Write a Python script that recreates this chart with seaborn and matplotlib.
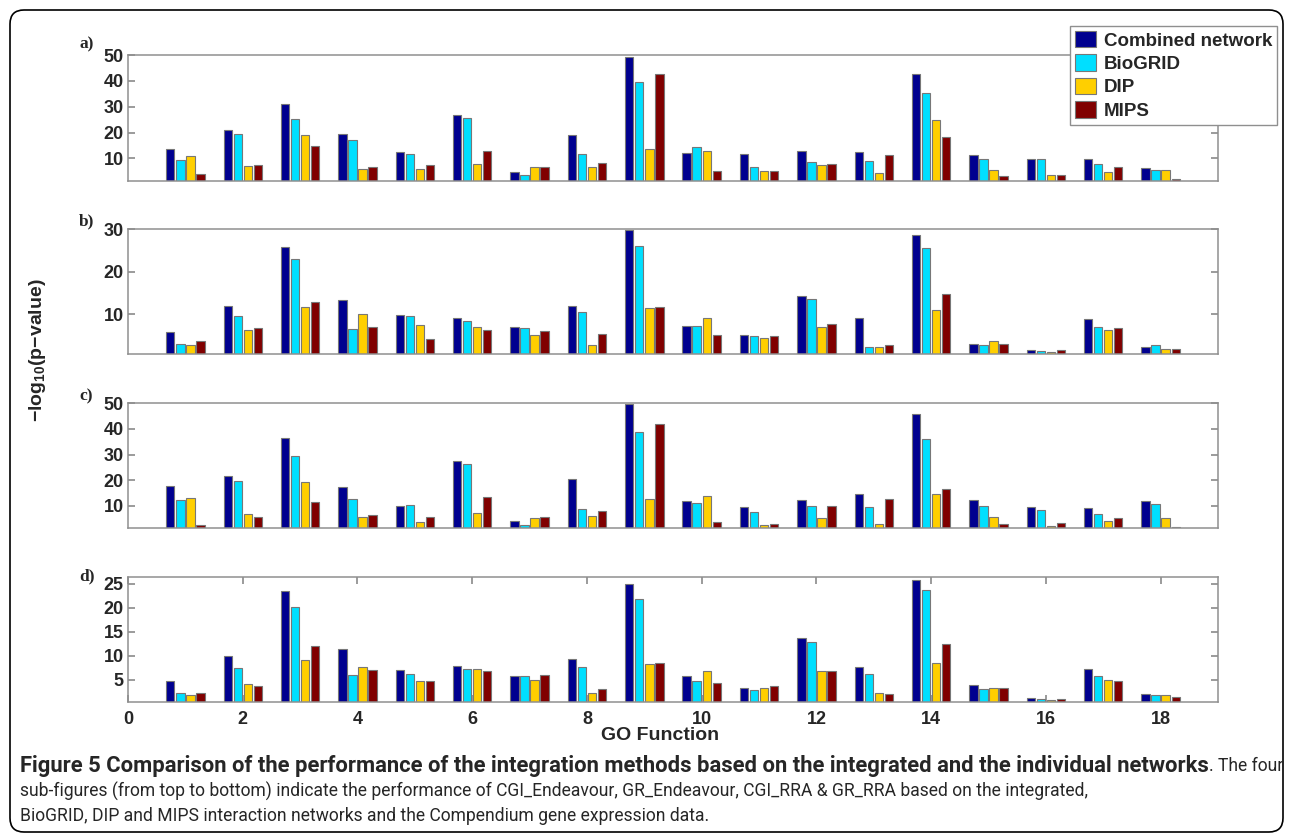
import numpy as np
import pandas as pd
import matplotlib
matplotlib.use("Agg")
import matplotlib.pyplot as plt
import seaborn as sns
from matplotlib import font_manager as fm
from matplotlib import transforms as mtransforms
from matplotlib.patches import FancyBboxPatch

# ---------------- data ----------------
go_function = list(range(1, 19))
networks = ["Combined network", "BioGRID", "DIP", "MIPS"]
panel_labels = ["a)", "b)", "c)", "d)"]
x_tick_labels = [0, 2, 4, 6, 8, 10, 12, 14, 16, 18]

a_combined = [13.5, 21.0, 31.2, 19.4, 12.5, 26.8, 4.8, 19.0, 49.4, 12.2, 11.8, 13.0, 12.5, 42.6, 11.3, 9.7, 9.9, 6.3]
a_biogrid = [9.2, 19.3, 25.1, 17.2, 11.7, 25.6, 3.5, 11.8, 39.7, 14.4, 6.8, 8.6, 8.8, 35.4, 9.6, 9.7, 7.9, 5.5]
a_dip = [10.8, 7.2, 19.0, 6.0, 5.9, 7.9, 6.5, 6.6, 13.6, 12.8, 5.1, 7.3, 4.3, 25.0, 5.6, 3.5, 4.7, 5.4]
a_mips = [3.9, 7.4, 14.9, 6.8, 7.3, 12.8, 6.5, 8.3, 42.5, 5.1, 5.1, 7.7, 11.2, 18.3, 3.0, 3.5, 6.5, 1.9]

b_combined = [5.9, 12.0, 25.9, 13.3, 9.7, 9.2, 6.9, 12.0, 29.8, 7.3, 5.1, 14.3, 9.0, 28.6, 3.1, 1.5, 8.8, 2.2]
b_biogrid = [3.1, 9.5, 23.1, 6.5, 9.5, 8.3, 6.7, 10.5, 26.1, 7.3, 4.8, 13.5, 2.2, 25.6, 2.7, 1.4, 7.1, 2.8]
b_dip = [2.8, 6.3, 11.7, 10.0, 7.5, 6.9, 5.2, 2.8, 11.4, 9.0, 4.5, 7.1, 2.2, 11.0, 3.7, 1.0, 6.3, 1.8]
b_mips = [3.7, 6.7, 12.8, 7.1, 4.1, 6.3, 6.1, 5.4, 11.7, 5.1, 4.8, 7.6, 2.8, 14.8, 2.9, 1.6, 6.7, 1.9]

c_combined = [17.9, 21.8, 36.4, 17.3, 10.1, 27.5, 4.0, 20.6, 49.7, 12.1, 9.5, 12.2, 14.5, 45.7, 12.2, 9.5, 9.4, 12.1]
c_biogrid = [12.2, 19.7, 29.5, 12.9, 10.5, 26.5, 2.7, 9.0, 39.0, 11.2, 7.5, 9.9, 9.5, 36.1, 10.0, 8.4, 7.0, 10.9]
c_dip = [13.2, 6.8, 19.5, 5.6, 3.9, 7.4, 5.2, 6.1, 12.6, 13.9, 2.5, 5.2, 3.1, 14.8, 5.7, 2.1, 4.2, 5.2]
c_mips = [2.7, 5.6, 11.7, 6.4, 5.7, 13.5, 5.7, 7.9, 42.1, 3.6, 3.0, 10.0, 12.9, 16.5, 3.0, 3.2, 5.5, 1.9]

d_combined = [4.7, 10.0, 23.5, 11.3, 7.0, 7.9, 5.7, 9.3, 25.0, 5.8, 3.3, 13.7, 7.6, 25.9, 3.8, 1.1, 7.3, 2.0]
d_biogrid = [2.2, 7.4, 20.2, 5.9, 6.2, 7.3, 5.7, 7.6, 21.9, 4.7, 2.8, 12.8, 6.1, 23.7, 3.0, 1.0, 5.8, 1.7]
d_dip = [1.7, 4.0, 9.0, 7.7, 4.8, 7.2, 4.9, 2.2, 8.3, 6.7, 3.3, 6.7, 2.3, 8.5, 3.3, 0.8, 5.0, 1.7]
d_mips = [2.3, 3.7, 12.1, 7.0, 4.7, 6.7, 5.9, 3.0, 8.4, 4.2, 3.7, 6.9, 2.0, 12.4, 3.2, 1.0, 4.8, 1.4]

panels = [
    [a_combined, a_biogrid, a_dip, a_mips],
    [b_combined, b_biogrid, b_dip, b_mips],
    [c_combined, c_biogrid, c_dip, c_mips],
    [d_combined, d_biogrid, d_dip, d_mips],
]
y_ticks = [[10, 20, 30, 40, 50], [10, 20, 30], [10, 20, 30, 40, 50], [5, 10, 15, 20, 25]]
y_limits = [(1.35, 50), (0.56, 30), (1.43, 50), (0.26, 26.5)]

# ---------------- style ----------------
sns.set_theme(style="white")
plt.rcParams["font.family"] = ["Liberation Sans", "DejaVu Sans"]
plt.rcParams["mathtext.fontset"] = "custom"
plt.rcParams["mathtext.bf"] = "Liberation Sans:bold"
plt.rcParams["mathtext.rm"] = "Liberation Sans"

colors = ["#00008F", "#00DFFF", "#FFCF00", "#800000"]
frame_gray = "#8f8f8f"

W, H = 1293, 840
fig = plt.figure(figsize=(W / 100, H / 100), dpi=100)
fig.patch.set_facecolor("white")

ax_left = 128 / W
ax_width = (1218 - 128) / W
tops_bottoms = [(55, 180.7), (229.3, 354.3), (403.3, 528.0), (576.7, 702.3)]
label_pos = [(79, 44), (79, 221), (79, 396), (79, 576)]

legend_handles = None
for i, (series, (top, bot)) in enumerate(zip(panels, tops_bottoms)):
    ax = fig.add_axes([ax_left, 1 - bot / H, ax_width, (bot - top) / H])
    df = pd.concat(
        [pd.DataFrame({"go": go_function, "value": vals, "network": name})
         for name, vals in zip(networks, series)],
        ignore_index=True,
    )
    sns.barplot(data=df, x="go", y="value", hue="network", hue_order=networks,
                palette=colors, saturation=1, native_scale=True, width=0.7, gap=0.17,
                edgecolor="#777777", linewidth=0.8, errorbar=None, ax=ax,
                legend=(i == 0))
    if i == 0:
        legend_handles = ax.get_legend_handles_labels()
        ax.get_legend().remove()
    ax.set_xlim(0, 19)
    ax.set_ylim(*y_limits[i])
    ax.set_yticks(y_ticks[i])
    ax.set_yticklabels([str(t) for t in y_ticks[i]], fontsize=13, fontweight="bold")
    ax.set_xlabel("")
    ax.set_ylabel("")
    for sp in ax.spines.values():
        sp.set_color(frame_gray)
        sp.set_linewidth(1.1)
        sp.set_visible(True)
    ax.tick_params(axis="y", direction="in", length=5, color=frame_gray,
                   left=True, right=True, labelleft=True, pad=3)
    if i == 3:
        ax.set_xticks(x_tick_labels)
        ax.set_xticklabels([str(t) for t in x_tick_labels], fontsize=13, fontweight="bold")
        ax.tick_params(axis="x", direction="in", length=5, color=frame_gray,
                       bottom=True, top=True, pad=6)
    else:
        ax.set_xticks([])
    fig.text(label_pos[i][0] / W, 1 - label_pos[i][1] / H, panel_labels[i],
             family=["Liberation Serif", "DejaVu Serif"], fontweight="bold",
             fontsize=12.5, ha="left", va="center")

# legend
h, l = legend_handles
fig.legend(h, l, loc="upper right", bbox_to_anchor=(1277 / W, 1 - 26 / H),
           bbox_transform=fig.transFigure, frameon=True, fancybox=False,
           edgecolor=frame_gray, framealpha=1, prop={"weight": "bold", "size": 13.5},
           handlelength=1.15, handleheight=1.0, handletextpad=0.4,
           labelspacing=0.25, borderpad=0.25, borderaxespad=0)

# axis labels
fig.text(38 / W, 1 - 350 / H, r"$\mathbf{-log_{10}(p{-}value)}$", rotation=90,
         fontsize=14, ha="center", va="center")
fig.text(660 / W, 1 - 736 / H, "GO Function", fontsize=14, fontweight="bold",
         ha="center", va="center")

# border
ident = mtransforms.IdentityTransform()
border = FancyBboxPatch((10, 8), 1273, 822, boxstyle="round,pad=0,rounding_size=14",
                        transform=ident, facecolor="none", edgecolor="black",
                        linewidth=1.2)
fig.patches.append(border)
border.set_figure(fig)

# caption
def pick_family(cands):
    for c in cands:
        try:
            fm.findfont(fm.FontProperties(family=c), fallback_to_default=False)
            return c
        except Exception:
            continue
    return "DejaVu Sans"

cap_family = pick_family(["Liberation Sans Narrow", "Roboto", "Open Sans"])
bold_part = ("Figure 5 Comparison of the performance of the integration methods "
             "based on the integrated and the individual networks")
rest_1 = ". The four"
line_2 = ("sub-figures (from top to bottom) indicate the performance of CGI_Endeavour, "
          "GR_Endeavour, CGI_RRA & GR_RRA based on the integrated,")
line_3 = ("BioGRID, DIP and MIPS interaction networks and the Compendium gene "
          "expression data.")

renderer = fig.canvas.get_renderer()
x0 = 20
ys = [840 - 766, 840 - 791, 840 - 816]
t1 = fig.text(x0, ys[0], bold_part, transform=ident, family=cap_family,
              fontweight="bold", fontsize=12, va="center", ha="left")
t1b = fig.text(0, ys[0], rest_1, transform=ident, family=cap_family,
               fontsize=12, va="center", ha="left")
t2 = fig.text(x0, ys[1], line_2, transform=ident, family=cap_family,
              fontsize=12, va="center", ha="left")
t3 = fig.text(x0, ys[2], line_3, transform=ident, family=cap_family,
              fontsize=12, va="center", ha="left")

# regular size: line 2 ends near x=1087 in the reference
fs_r = 12
for _ in range(2):
    w2 = t2.get_window_extent(renderer).width
    fs_r = fs_r * (1087 - x0) / w2
    for t in (t1b, t2, t3):
        t.set_fontsize(fs_r)
# bold size: line 1 ends near x=1280
fs_b = 12
for _ in range(2):
    wb = t1.get_window_extent(renderer).width
    wr = t1b.get_window_extent(renderer).width
    fs_b = fs_b * (1280 - x0 - wr) / wb
    t1.set_fontsize(fs_b)
bb = t1.get_window_extent(renderer)
t1b.set_x(bb.x1)

fig.savefig("out.png", dpi=100, facecolor="white")
